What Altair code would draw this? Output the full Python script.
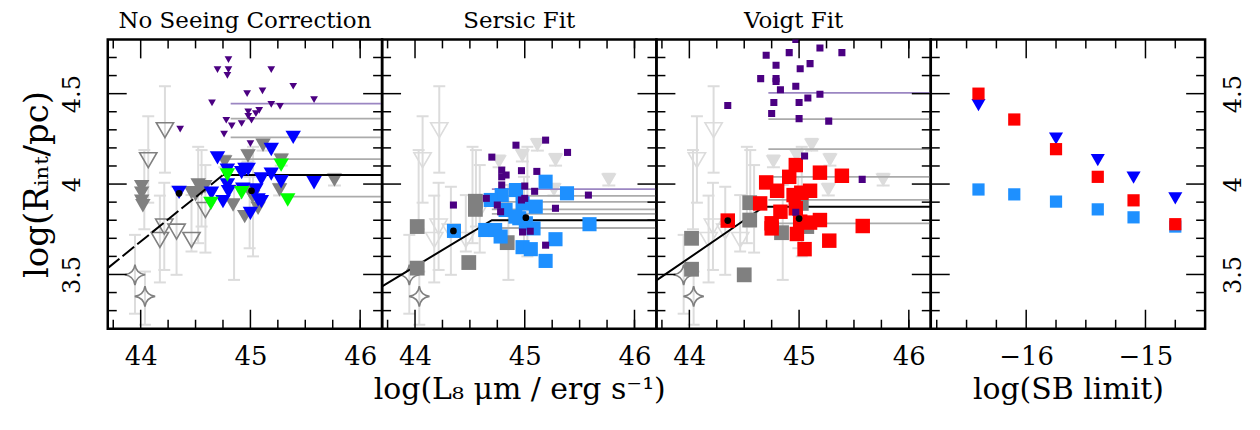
import altair as alt
import pandas as pd

W, H = 275, 290
FONT = "DejaVu Serif"
LG = "#dcdcdc"
GR = "#808080"
HG = "#ababab"
PL = "#9b86c2"
PURPLE = "#4b0082"
BLUE = "#0000ff"
GREEN = "#00ff00"
LBLUE = "#1e90ff"
RED = "#ff0000"

# ---------------- data ----------------
# literature sample with error bars (same in the three left panels)
LIT_X = [44.221, 44.069, 44.033, 44.175, 44.215, 44.327, 44.463, 44.524, 44.555, 44.590, 43.948, 44.039, 44.851, 45.024, 44.993]
LIT_LO = [4.063, 3.897, 3.750, 3.456, 3.525, 3.498, 3.627, 3.673, 3.765, 3.621, 3.283, 3.222, 3.470, 3.600, 3.645]
LIT_HI = [4.541, 4.375, 4.188, 3.936, 4.007, 3.985, 3.939, 4.206, 4.188, 4.105, 3.719, 3.516, 3.995, 4.206, 4.040]
OPEN_X = [44.221, 44.069, 44.175, 44.215, 44.327, 44.463, 44.590]
OPEN_Y = [4.298, 4.132, 3.691, 3.765, 3.737, 3.691, 3.857]
STAR_X = [43.948, 44.039]
STAR_Y = [3.498, 3.379]
ULIM_X = [45.115, 44.978, 44.766, 45.281, 45.766, 45.266]
ULIM_Y = [4.215, 4.155, 4.123, 4.132, 4.022, 3.967]

# panel 1: no seeing correction
GTRI_X = [44.009, 44.009, 44.009, 44.020, 44.524, 44.555, 44.463, 44.585, 44.500, 44.993, 45.070, 44.948, 44.842, 45.020, 45.080]
GTRI_Y = [3.985, 3.950, 3.905, 3.880, 3.995, 3.971, 3.952, 3.985, 3.940, 3.958, 3.866, 3.820, 3.884, 3.930, 3.900]
PUR1_X = [44.80, 44.70, 44.80, 44.79, 45.19, 45.39, 44.97, 45.11, 44.65, 45.58, 45.19, 45.27, 44.98, 45.08, 45.05, 44.98, 45.01, 44.78, 44.83, 44.92, 44.36, 44.76, 45.00]
PUR1_Y = [4.688, 4.633, 4.633, 4.601, 4.633, 4.541, 4.500, 4.515, 4.449, 4.467, 4.441, 4.430, 4.399, 4.408, 4.390, 4.375, 4.353, 4.353, 4.322, 4.335, 4.304, 4.276, 4.224]
BLUE_X = [44.70, 45.39, 45.19, 44.79, 44.95, 44.92, 44.98, 45.10, 45.19, 45.28, 45.58, 44.35, 44.645, 44.79, 44.80, 44.75, 44.93, 45.05, 45.07, 45.10, 45.00]
BLUE_Y = [4.145, 4.258, 4.191, 4.077, 4.081, 4.063, 4.081, 4.028, 4.055, 4.013, 4.007, 3.954, 3.949, 3.995, 3.958, 3.903, 3.971, 3.967, 3.912, 3.903, 3.838]
GREEN_X = [44.79, 45.28, 44.92, 44.64, 45.34]
GREEN_Y = [4.050, 4.105, 3.952, 3.893, 3.912]
DOT1_X = [44.35, 45.01]
DOT1_Y = [3.949, 3.963]
HL1_X = [44.82, 44.82, 44.77, 45.30]
HL1_Y = [4.362, 4.258, 4.138, 3.930]
HP1_X = [44.82]
HP1_Y = [4.445]
FIT1_X = [43.70, 44.75, 46.20]
FIT1_Y = [3.535, 4.050, 4.050]

# panel 2: Sersic fit
GSQ2_X = [44.02, 44.02, 44.55, 44.55, 44.49, 44.84]
GSQ2_Y = [3.765, 3.535, 3.905, 3.860, 3.566, 3.676]
PUR2_X = [45.19, 44.92, 45.39, 44.70, 44.79, 44.97, 45.11, 44.79, 44.83, 44.79, 45.00, 45.09, 44.65, 44.35, 45.00, 44.97, 44.75, 44.78, 45.28, 45.58, 44.98, 45.05, 45.19]
PUR2_Y = [4.243, 4.215, 4.175, 4.149, 4.077, 4.074, 4.070, 4.040, 4.050, 3.995, 3.989, 3.960, 3.921, 3.884, 3.921, 3.912, 3.884, 3.847, 3.866, 3.939, 3.735, 3.739, 3.662]
LB_X = [45.19, 45.385, 44.92, 44.79, 44.69, 44.98, 45.10, 44.825, 44.355, 44.64, 44.73, 44.78, 44.95, 45.01, 45.08, 45.28, 44.98, 45.055, 45.19, 45.59, 44.915]
LB_Y = [4.013, 3.949, 3.967, 3.939, 3.912, 3.893, 3.875, 3.857, 3.741, 3.746, 3.746, 3.710, 3.811, 3.783, 3.755, 3.695, 3.651, 3.640, 3.575, 3.778, 3.820]
DOT2_X = [44.35, 45.01]
DOT2_Y = [3.741, 3.814]
HL2_X = [44.70, 44.70, 44.70, 44.70, 44.70]
HL2_Y = [3.935, 3.902, 3.860, 3.835, 3.757]
HP2_X = [44.70]
HP2_Y = [3.972]
FIT2_X = [43.70, 44.70, 46.20]
FIT2_Y = [3.434, 3.800, 3.800]

# panel 3: Voigt fit
GSQ3_X = [44.02, 44.02, 44.55, 44.55, 44.50, 44.84, 45.02, 45.07]
GSQ3_Y = [3.700, 3.529, 3.897, 3.801, 3.498, 3.731, 3.893, 3.765]
PUR3_X = [44.97, 44.70, 44.91, 45.19, 45.39, 44.79, 45.01, 45.10, 44.65, 44.79, 44.79, 44.83, 44.97, 45.19, 45.08, 44.77, 45.00, 44.35, 44.75, 45.00, 45.27, 45.05, 45.575, 44.97]
PUR3_Y = [4.800, 4.712, 4.727, 4.752, 4.727, 4.657, 4.638, 4.666, 4.583, 4.583, 4.568, 4.522, 4.541, 4.497, 4.476, 4.451, 4.451, 4.434, 4.390, 4.362, 4.348, 4.155, 4.026, 3.844]
RED_X = [44.97, 44.91, 45.19, 45.39, 44.70, 44.80, 44.95, 45.02, 45.10, 44.645, 44.97, 44.83, 44.75, 44.75, 45.01, 45.10, 45.19, 44.98, 45.05, 45.275, 45.58, 44.35]
RED_Y = [4.105, 4.040, 4.063, 4.046, 4.009, 3.963, 3.939, 3.952, 3.963, 3.893, 3.866, 3.847, 3.783, 3.755, 3.792, 3.787, 3.801, 3.724, 3.640, 3.687, 3.768, 3.798]
DOT3_X = [44.35, 45.00]
DOT3_Y = [3.798, 3.809]
HL3_X = [44.72, 44.72, 44.72, 44.72, 44.72]
HL3_Y = [4.359, 4.193, 4.040, 3.912, 3.783]
HP3_X = [44.72]
HP3_Y = [4.504]
FIT3_X = [43.70, 44.68, 46.20]
FIT3_Y = [3.467, 3.875, 3.875]

# panel 4: SB limit
SB_X = [-16.40, -16.10, -15.75, -15.40, -15.10, -14.75]
SB_RED = [4.500, 4.357, 4.193, 4.040, 3.910, 3.778]
SB_LBLUE = [3.970, 3.943, 3.903, 3.860, 3.816, 3.765]
SBT_X = [-16.40, -15.75, -15.40, -15.10, -14.75]
SBT_BLUE = [4.436, 4.252, 4.132, 4.035, 3.921]

# tick positions
XT_MAJ = [44, 45, 46]
XT_MIN = [43.75, 44.25, 44.5, 44.75, 45.25, 45.5, 45.75, 46.0]
XT4_MAJ = [-16, -15]
XT4_MIN = [-16.75, -16.5, -16.25, -15.75, -15.5, -15.25, -14.75]
YT_MAJ = [3.5, 4.0, 4.5]
YT_MIN = [3.3, 3.4, 3.6, 3.7, 3.8, 3.9, 4.1, 4.2, 4.3, 4.4, 4.6, 4.7]

XS = alt.Scale(domain=[43.7, 46.2], nice=False, zero=False)
XS4 = alt.Scale(domain=[-16.8, -14.5], nice=False, zero=False)
YS = alt.Scale(domain=[3.2, 4.8], nice=False, zero=False)

STAR = "M0,-1Q0.12,-0.12 1,0Q0.12,0.12 0,1Q-0.12,0.12 -1,0Q-0.12,-0.12 0,-1Z"


def xaxis(values, title=None):
    kw = dict(values=values, format="d", ticks=False, domain=False, grid=False,
              labelFont=FONT, labelFontSize=26, labelPadding=15, labelColor="black",
              labelFlush=False, labelOverlap=False)
    if title:
        kw.update(title=title, titleFont=FONT, titleFontSize=30, titleFontWeight="normal",
                  titlePadding=5, titleColor="black")
    else:
        kw.update(title=None)
    return alt.Axis(**kw)


def yaxis(orient):
    kw = dict(values=YT_MAJ, format="~g", ticks=False, domain=False, grid=False, orient=orient,
              labelFont=FONT, labelFontSize=24, labelColor="black", labelAngle=270,
              labelAlign="center", labelFlush=False, labelOverlap=False)
    if orient == "left":
        kw.update(labelBaseline="bottom", labelPadding=23, title="log(Rᵢₙₜ/pc)",
                  titleFont=FONT, titleFontSize=34, titleFontWeight="normal",
                  titlePadding=6, titleColor="black")
    else:
        kw.update(labelBaseline="top", labelPadding=16, title=None)
    return alt.Axis(**kw)


class Panel:
    def __init__(self, xs, xax, yax):
        self.xs, self.xax, self.yax = xs, xax, yax
        self.layers = []

    def X(self, f="x"):
        return alt.X(f + ":Q", scale=self.xs, axis=self.xax)

    def Y(self, f="y"):
        return alt.Y(f + ":Q", scale=YS, axis=self.yax)

    def pts(self, x, y, clip=False, **kw):
        d = pd.DataFrame({"x": x, "y": y})
        m = alt.Chart(d).mark_point(opacity=1, clip=clip, **kw)
        self.layers.append(m.encode(x=self.X(), y=self.Y()))

    def hlines(self, x, y, color, sw=1.8):
        d = pd.DataFrame({"x": x, "y": y})
        self.layers.append(alt.Chart(d).mark_rule(color=color, strokeWidth=sw).encode(
            x=self.X(), x2=alt.value(W), y=self.Y()))

    def line(self, x, y, dash=None):
        kw = dict(color="black", strokeWidth=2)
        if dash:
            kw["strokeDash"] = dash
        d = pd.DataFrame({"x": x, "y": y})
        self.layers.append(alt.Chart(d).mark_line(**kw).encode(x=self.X(), y=self.Y()))

    def vbars(self, x, lo, hi, color, sw=2):
        d = pd.DataFrame({"x": x, "lo": lo, "hi": hi})
        self.layers.append(alt.Chart(d).mark_rule(color=color, strokeWidth=sw).encode(
            x=self.X(), y=self.Y("lo"), y2="hi:Q"))

    def caps(self, x, y, color, size=12):
        d = pd.DataFrame({"x": x, "y": y})
        self.layers.append(alt.Chart(d).mark_tick(
            orient="horizontal", size=size, thickness=2, color=color, opacity=1).encode(
            x=self.X(), y=self.Y()))

    def lit(self, open_color):
        self.vbars(LIT_X, LIT_LO, LIT_HI, LG)
        self.caps(LIT_X + LIT_X, LIT_LO + LIT_HI, LG)
        self.pts(OPEN_X, OPEN_Y, shape="triangle-down", size=300, filled=False,
                 color=open_color, strokeWidth=1.6)
        self.pts(STAR_X, STAR_Y, shape=STAR, size=420, filled=False, color=GR, strokeWidth=1.6)

    def ulim(self, tri_color):
        up = [v + 0.035 for v in ULIM_Y]
        dn = [v - 0.03 for v in ULIM_Y]
        self.vbars(ULIM_X, dn, up, LG)
        self.caps(ULIM_X + ULIM_X, up + dn, LG, 13)
        self.pts(ULIM_X, ULIM_Y, shape="triangle-down", size=240, filled=True, color=tri_color)

    def ticks(self, xmaj, xmin):
        for vals, L in ((xmaj, 19), (xmin, 9)):
            d = pd.DataFrame({"t": vals})
            for y0, y1 in ((H, H - L), (0, L)):
                self.layers.append(alt.Chart(d).mark_rule(color="black", strokeWidth=1.5).encode(
                    x=self.X("t"), y=alt.value(y0), y2=alt.value(y1)))
        for vals, L in ((YT_MAJ, 19), (YT_MIN, 9)):
            d = pd.DataFrame({"t": vals})
            for x0, x1 in ((0, L), (W, W - L)):
                self.layers.append(alt.Chart(d).mark_rule(color="black", strokeWidth=1.5).encode(
                    y=self.Y("t"), x=alt.value(x0), x2=alt.value(x1)))

    def chart(self, title):
        return alt.layer(*self.layers).properties(width=W, height=H, title=title)


# ---------------- panel 1 ----------------
a = Panel(XS, xaxis(XT_MAJ), yaxis("left"))
a.lit(GR)
a.hlines(HL1_X, HL1_Y, HG)
a.hlines(HP1_X, HP1_Y, PL)
a.ulim(GR)
a.pts(GTRI_X, GTRI_Y, shape="triangle-down", size=240, filled=True, color=GR)
a.line(FIT1_X[:2], FIT1_Y[:2], dash=[15, 4])
a.line(FIT1_X[1:], FIT1_Y[1:])
a.pts(PUR1_X, PUR1_Y, shape="triangle-down", size=60, filled=True, color=PURPLE)
a.pts(BLUE_X, BLUE_Y, shape="triangle-down", size=240, filled=True, color=BLUE)
a.pts(GREEN_X, GREEN_Y, shape="triangle-down", size=240, filled=True, color=GREEN)
a.pts(DOT1_X, DOT1_Y, shape="circle", size=45, filled=True, color="black")
a.ticks(XT_MAJ, XT_MIN)
p1 = a.chart("No Seeing Correction")

# ---------------- panel 2 ----------------
b = Panel(XS, xaxis(XT_MAJ, "log(L₈ μm / erg  s⁻¹)"), None)
b.lit(LG)
b.ulim(LG)
b.hlines(HL2_X, HL2_Y, HG)
b.hlines(HP2_X, HP2_Y, PL)
b.line(FIT2_X, FIT2_Y)
b.pts(GSQ2_X, GSQ2_Y, shape="square", size=220, filled=True, color=GR)
b.pts(LB_X, LB_Y, shape="square", size=200, filled=True, color=LBLUE)
b.pts(PUR2_X, PUR2_Y, shape="square", size=50, filled=True, color=PURPLE)
b.pts(DOT2_X, DOT2_Y, shape="circle", size=45, filled=True, color="black")
b.ticks(XT_MAJ, XT_MIN)
p2 = b.chart("Sersic Fit")

# ---------------- panel 3 ----------------
c = Panel(XS, xaxis(XT_MAJ), None)
c.lit(LG)
c.ulim(LG)
c.hlines(HL3_X, HL3_Y, HG)
c.hlines(HP3_X, HP3_Y, PL)
c.line(FIT3_X, FIT3_Y)
c.pts(GSQ3_X, GSQ3_Y, shape="square", size=220, filled=True, color=GR)
c.pts(RED_X, RED_Y, shape="square", size=210, filled=True, color=RED)
c.pts(PUR3_X, PUR3_Y, clip=True, shape="square", size=50, filled=True, color=PURPLE)
c.pts(DOT3_X, DOT3_Y, shape="circle", size=45, filled=True, color="black")
c.ticks(XT_MAJ, XT_MIN)
p3 = c.chart("Voigt Fit")

# ---------------- panel 4 ----------------
d4 = Panel(XS4, xaxis(XT4_MAJ, "log(SB limit)"), yaxis("right"))
d4.pts(SB_X, SB_LBLUE, shape="square", size=150, filled=True, color=LBLUE)
d4.pts(SBT_X, SBT_BLUE, shape="triangle-down", size=200, filled=True, color=BLUE)
d4.pts(SB_X, SB_RED, shape="square", size=150, filled=True, color=RED)
d4.ticks(XT4_MAJ, XT4_MIN)
p4 = d4.chart(" ")

chart = alt.hconcat(
    p1, p2, p3, p4, spacing=0, bounds="flush",
    padding={"left": 11, "top": 0, "right": 5, "bottom": 5},
).configure_view(
    stroke="black", strokeWidth=2.5
).configure_title(
    font=FONT, fontSize=23, fontWeight="normal", offset=6, color="black"
)

chart.save("out.html", embed_options={"renderer": "svg", "actions": False})
